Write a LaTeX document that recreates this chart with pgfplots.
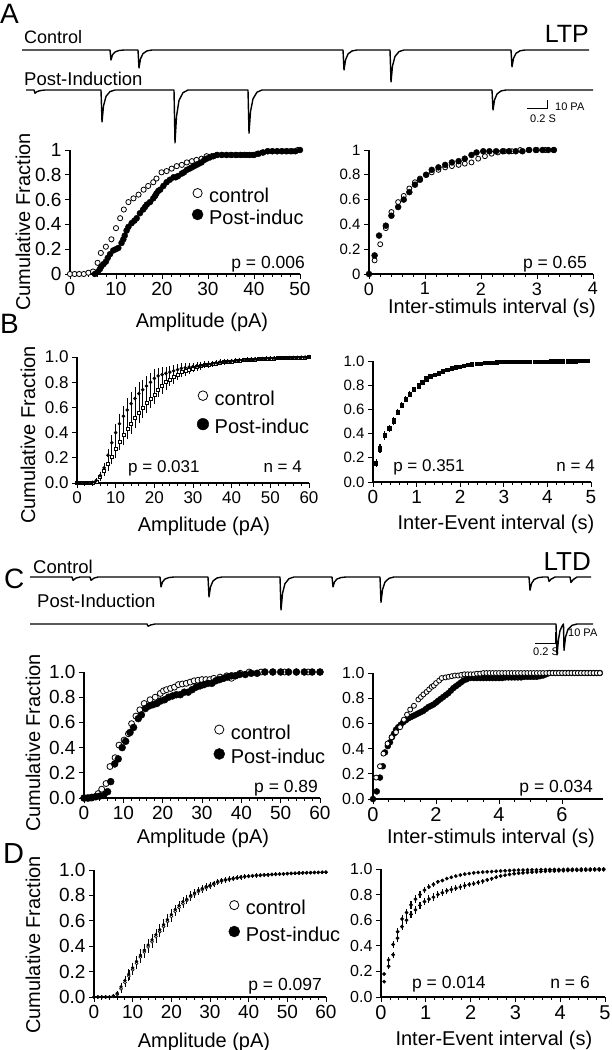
\documentclass[border=0pt]{standalone}
\usepackage{fontspec}
\setmainfont{Liberation Sans}
\usepackage{pgfplots}
\pgfplotsset{compat=1.18}
\newcommand{\fs}[1]{\fontsize{#1}{#1}\selectfont}
\pgfplotsset{
  cdf/.style={scale only axis, anchor=south west, axis lines*=left,
    enlargelimits=false, clip=false,
    axis line style={line width=1.1pt, black},
    tick style={black, line width=0.9pt},
    tick align=outside, major tick length=5pt, minor tick length=2.5pt,
    /pgf/number format/assume math mode=true,
    ymin=0, ymax=1, xmin=0,
    ytick={0,0.2,0.4,0.6,0.8,1},
    yticklabels={0.0,0.2,0.4,0.6,0.8,1.0},
    xlabel style={anchor=center, font=\fs{20}},
    ylabel style={anchor=center, font=\fs{20}},
    legend style={anchor=north west, draw=none, fill=none, font=\fs{20},
      inner sep=0pt, column sep=5pt, nodes={inner sep=1pt}},
    legend cell align=left,
  },
  trace/.style={scale only axis, anchor=south west, hide axis, clip=false,
    xmin=0, xmax=6, width=600pt},
  dotlegend/.style={legend image code/.code={\draw[##1] plot coordinates {(0pt,0.33em)};}},
  openm/.style={only marks, mark=*, mark options={fill=white, draw=black, line width=0.8pt}, black},
  fillm/.style={only marks, mark=*, mark options={fill=black, draw=black}, black},
  ebar/.style={error bars/.cd, y dir=both, y explicit,
    error bar style={line width=0.6pt, black},
    error mark options={mark size=1.4pt, line width=0.6pt, black}},
  ebarnc/.style={error bars/.cd, y dir=both, y explicit,
    error bar style={line width=1.1pt, black}, error mark=none},
}
\begin{document}
\begin{tikzpicture}
\path[use as bounding box] (0,0) rectangle (612pt,-1050pt);

% ---------------- texts of panels A and C ----------------
\node[anchor=base west, font=\fs{28}, inner sep=0pt] at (0pt,-23pt) {A};
\node[anchor=base east, font=\fs{25}, inner sep=0pt] at (589pt,-42pt) {LTP};
\node[anchor=base west, font=\fs{18}, inner sep=0pt] at (24pt,-43pt) {Control};
\node[anchor=base west, font=\fs{18.5}, inner sep=0pt] at (24pt,-85pt) {Post-Induction};
\node[anchor=base west, font=\fs{28}, inner sep=0pt] at (0pt,-333pt) {B};
\node[anchor=base west, font=\fs{28}, inner sep=0pt] at (4pt,-588pt) {C};
\node[anchor=base west, font=\fs{18.5}, inner sep=0pt] at (33pt,-573pt) {Control};
\node[anchor=base east, font=\fs{26}, inner sep=0pt] at (591pt,-570pt) {LTD};
\node[anchor=base west, font=\fs{18.5}, inner sep=0pt] at (37pt,-607pt) {Post-Induction};
\node[anchor=base west, font=\fs{29}, inner sep=0pt] at (3pt,-863pt) {D};

% ---------------- traces A ----------------
\begin{axis}[trace, at={(0pt,-110pt)}, height=68pt, ymin=-75, ymax=10]
\addplot[black, line width=1.4pt, line join=round] coordinates {
(0.22,0)
(1.10,0)(1.11,-12.5)(1.125,-6)(1.15,-2.5)(1.19,-0.6)(1.24,0)
(1.38,0)(1.39,-22.5)(1.405,-11)(1.43,-4.5)(1.47,-1.1)(1.52,0)
(3.43,0)(3.44,-25)(3.455,-12.5)(3.48,-5)(3.52,-1.2)(3.57,0)
(3.90,0)(3.91,-40)(3.925,-20)(3.95,-8)(3.99,-2)(4.04,0)
(5.11,0)(5.12,-21)(5.135,-10.5)(5.16,-4.2)(5.20,-1)(5.25,0)
(5.89,0)};
\end{axis}
\begin{axis}[trace, at={(0pt,-150pt)}, height=68pt, ymin=-75, ymax=10]
\addplot[black, line width=1.4pt, line join=round] coordinates {
(0.26,0)
(0.34,0)(0.35,-4)(0.37,-2)(0.40,-0.8)(0.45,0)
(1.01,0)(1.02,-40)(1.035,-20)(1.06,-8)(1.10,-2)(1.15,0)
(1.74,0)(1.75,-66)(1.765,-33)(1.79,-13)(1.83,-3.3)(1.88,0)
(2.48,0)(2.49,-54)(2.505,-27)(2.53,-11)(2.57,-2.7)(2.62,0)
(4.92,0)(4.93,-25)(4.945,-12.5)(4.97,-5)(5.01,-1.2)(5.06,0)
(5.93,0)};
\addplot[black, line width=1pt] coordinates {(5.27,-22.5)(5.47,-22.5)(5.47,-12.5)};
\node[anchor=west, font=\fs{11}, inner sep=0pt] at (axis cs:5.55,-21.5) {10 PA};
\node[font=\fs{11}, inner sep=0pt] at (axis cs:5.43,-36) {0.2 S};
\end{axis}

% ---------------- A left ----------------
\begin{axis}[cdf, at={(70pt,-274pt)}, width=230pt, height=124pt, xmax=50,
  xtick={0,10,20,30,40,50}, minor x tick num=4,
  yticklabels={0,0.2,0.4,0.6,0.8,1},
  tick label style={font=\fs{19}},
  xlabel={Amplitude (pA)}, ylabel={Cumulative Fraction},
  xlabel style={at={(axis description cs:0.574,-0.387)}},
  ylabel style={at={(axis description cs:-0.204,0.419)}},
  legend style={at={(axis description cs:0.53,0.70)}, row sep=3.4pt}]
\addlegendimage{openm, mark size=4.6pt, dotlegend}\addlegendentry{control}
\addlegendimage{fillm, mark size=5.5pt, dotlegend}\addlegendentry{Post-induc}
\addplot[openm, mark size=2.6pt] coordinates {
(0,0)(1,0)(2,0)(3,0)(4,0.01)(5,0.02)(6,0.09)(6.7,0.17)(7.8,0.22)(9,0.28)(10,0.37)(10.9,0.45)(11.7,0.52)(12.7,0.58)(13.8,0.61)(14.9,0.64)(16,0.68)(17,0.71)(18.1,0.74)(18.8,0.77)(19.9,0.82)(21,0.83)(22.1,0.85)(23.2,0.87)(24.3,0.88)(25.4,0.9)(26.5,0.91)(27.5,0.92)(28.6,0.93)(29.7,0.95)(30.8,0.95)(31.9,0.96)(33,0.96)(34.1,0.96)(35.2,0.96)(36.3,0.96)(37.4,0.96)(38.5,0.96)(39.6,0.96)(40.7,0.97)(41.8,0.98)(42.9,0.99)(44,0.99)(45.1,0.99)(46.2,0.99)(47.3,0.99)(48.4,0.99)(49.5,1)};
\addplot[fillm, mark size=3pt] coordinates {
(5.4,0)(6.1,0.02)(6.5,0.04)(6.8,0.06)(7.3,0.08)(7.8,0.1)(8.2,0.13)(8.7,0.16)(9.4,0.19)(10,0.2)(10.5,0.21)(11.2,0.25)(11.6,0.28)(11.9,0.31)(12.3,0.35)(12.7,0.38)(13.4,0.41)(14,0.43)(14.5,0.45)(15.2,0.49)(15.9,0.52)(16.3,0.54)(16.7,0.56)(17.4,0.58)(18.1,0.61)(18.5,0.63)(18.8,0.65)(19.2,0.67)(19.6,0.68)(20.3,0.71)(21,0.74)(21.7,0.76)(22.5,0.78)(23,0.78)(23.5,0.79)(24.3,0.81)(24.8,0.82)(25.4,0.84)(26,0.85)(26.5,0.86)(27,0.87)(27.5,0.88)(28,0.89)(28.6,0.9)(29.2,0.92)(29.7,0.93)(30.4,0.94)(31.2,0.95)(32,0.96)(33,0.96)(34,0.96)(35,0.96)(36,0.96)(37,0.96)(38,0.96)(39,0.96)(40,0.96)(41,0.97)(42,0.98)(43,0.99)(44,0.99)(45,0.99)(46,0.99)(47,0.99)(48,0.99)(49,0.99)(50,1)};
\node[anchor=base east, font=\fs{17.5}, inner sep=0pt] at (axis description cs:1.022,0.048) {p = 0.006};
\end{axis}

% ---------------- A right ----------------
\begin{axis}[cdf, at={(369pt,-274pt)}, width=224pt, height=124pt, xmax=4,
  xtick={0,1,2,3,4}, minor x tick num=4,
  yticklabels={0,0.2,0.4,0.6,0.8,1},
  xticklabel style={font=\fs{18}}, yticklabel style={font=\fs{15}},
  xlabel={Inter-stimuls interval (s)},
  xlabel style={at={(axis description cs:0.549,-0.274)}}]
\addplot[openm, mark size=2.5pt] coordinates {
(0.1,0.11)(0.2,0.24)(0.3,0.37)(0.4,0.5)(0.52,0.58)(0.62,0.63)(0.72,0.69)(0.82,0.74)(0.91,0.77)(1.02,0.8)(1.12,0.82)(1.24,0.84)(1.36,0.86)(1.48,0.87)(1.6,0.88)(1.71,0.89)(1.83,0.9)(1.95,0.93)(2.07,0.95)(2.19,0.97)(2.3,0.98)(2.42,0.99)(2.55,0.99)(2.7,1)(2.85,1)(3,1)(3.15,1)(3.3,1)};
\addplot[fillm, mark size=3pt] coordinates {
(0,0)(0.1,0.15)(0.18,0.31)(0.3,0.39)(0.4,0.47)(0.52,0.54)(0.62,0.6)(0.72,0.66)(0.82,0.72)(0.91,0.76)(1.02,0.8)(1.12,0.84)(1.24,0.86)(1.36,0.88)(1.48,0.9)(1.6,0.91)(1.71,0.93)(1.83,0.96)(1.92,0.98)(2.04,0.99)(2.15,0.99)(2.27,0.99)(2.39,0.99)(2.5,0.99)(2.62,0.99)(2.74,0.99)(2.86,1)(2.98,1)(3.1,1)(3.2,1)(3.3,1)};
\node[anchor=base east, font=\fs{17.5}, inner sep=0pt] at (axis description cs:0.973,0.048) {p = 0.65};
\end{axis}

% ---------------- B left ----------------
\begin{axis}[cdf, at={(77pt,-483pt)}, width=232pt, height=126pt, xmax=60,
  xtick={0,10,20,30,40,50,60}, minor x tick num=4,
  tick label style={font=\fs{17}},
  xlabel={Amplitude (pA)}, ylabel={Cumulative Fraction},
  xlabel style={at={(axis description cs:0.547,-0.341)}},
  ylabel style={at={(axis description cs:-0.211,0.381)}},
  legend style={at={(axis description cs:0.517,0.74)}, row sep=10.4pt}]
\addlegendimage{openm, mark size=4.8pt, dotlegend}\addlegendentry{control}
\addlegendimage{fillm, mark size=5.8pt, dotlegend}\addlegendentry{Post-induc}
\addplot[only marks, mark=square*, mark size=1.5pt, mark options={fill=white, draw=black, line width=0.5pt}, black, ebar] table[x=x, y=y, y error=e, row sep=\\] {
x y e\\ 0 0 0\\ 1 0 0\\ 2 0 0\\ 3 0 0\\ 4 0.003 0.002\\ 5 0.01 0.005\\ 6 0.05 0.02\\ 7 0.10 0.03\\ 8 0.15 0.04\\ 9 0.21 0.05\\ 10 0.27 0.06\\ 11 0.33 0.06\\ 12 0.38 0.07\\ 13 0.43 0.07\\ 14 0.47 0.07\\ 15 0.52 0.07\\ 16 0.56 0.07\\ 17 0.60 0.07\\ 18 0.64 0.07\\ 19 0.67 0.06\\ 20 0.70 0.06\\ 21 0.74 0.05\\ 22 0.77 0.05\\ 23 0.80 0.05\\ 24 0.82 0.04\\ 25 0.84 0.04\\ 26 0.86 0.03\\ 27 0.88 0.03\\ 28 0.89 0.03\\ 29 0.90 0.025\\ 30 0.91 0.02\\ 31 0.92 0.02\\ 32 0.93 0.02\\ 33 0.935 0.015\\ 34 0.94 0.015\\ 35 0.945 0.012\\ 36 0.95 0.01\\ 37 0.955 0.01\\ 38 0.96 0.01\\ 39 0.963 0.01\\ 40 0.966 0.008\\ 41 0.969 0.008\\ 42 0.972 0.008\\ 43 0.975 0.006\\ 44 0.977 0.006\\ 45 0.979 0.006\\ 46 0.981 0.005\\ 47 0.983 0.005\\ 48 0.985 0.005\\ 49 0.987 0.004\\ 50 0.989 0.004\\ 51 0.99 0.003\\ 52 0.991 0.003\\ 53 0.992 0.003\\ 54 0.993 0.003\\ 55 0.994 0.002\\ 56 0.995 0.002\\ 57 0.996 0.002\\ 58 0.997 0.002\\ 59 0.998 0.001\\ 60 0.999 0\\
};
\addplot[only marks, mark=*, mark size=1.6pt, black, ebar] table[x=x, y=y, y error=e, row sep=\\] {
x y e\\ 0 0 0\\ 1 0 0\\ 2 0 0\\ 3 0 0\\ 4 0.005 0.003\\ 5 0.02 0.01\\ 6 0.06 0.02\\ 7 0.12 0.03\\ 8 0.22 0.04\\ 9 0.32 0.05\\ 10 0.40 0.06\\ 11 0.47 0.07\\ 12 0.53 0.07\\ 13 0.58 0.08\\ 14 0.63 0.08\\ 15 0.67 0.08\\ 16 0.71 0.08\\ 17 0.74 0.07\\ 18 0.77 0.07\\ 19 0.80 0.06\\ 20 0.83 0.06\\ 21 0.85 0.05\\ 22 0.86 0.05\\ 23 0.87 0.04\\ 24 0.88 0.04\\ 25 0.89 0.035\\ 26 0.90 0.03\\ 27 0.91 0.03\\ 28 0.915 0.025\\ 29 0.92 0.02\\ 30 0.925 0.02\\ 31 0.93 0.02\\ 32 0.935 0.015\\ 33 0.94 0.015\\ 34 0.945 0.015\\ 35 0.95 0.01\\ 36 0.955 0.01\\ 37 0.96 0.01\\ 38 0.963 0.01\\ 39 0.966 0.01\\ 40 0.969 0.008\\ 41 0.972 0.008\\ 42 0.975 0.008\\ 43 0.977 0.006\\ 44 0.979 0.006\\ 45 0.981 0.006\\ 46 0.983 0.005\\ 47 0.985 0.005\\ 48 0.987 0.005\\ 49 0.989 0.004\\ 50 0.99 0.004\\ 51 0.991 0.003\\ 52 0.992 0.003\\ 53 0.993 0.003\\ 54 0.994 0.003\\ 55 0.995 0.002\\ 56 0.996 0.002\\ 57 0.997 0.002\\ 58 0.998 0.002\\ 59 0.999 0.001\\ 60 1 0\\
};
\node[anchor=base west, font=\fs{17}, inner sep=0pt] at (axis description cs:0.22,0.087) {p = 0.031};
\node[anchor=base east, font=\fs{17}, inner sep=0pt] at (axis description cs:0.97,0.087) {n = 4};
\end{axis}

% ---------------- B right ----------------
\begin{axis}[cdf, at={(373pt,-482pt)}, width=218pt, height=121pt, xmax=5,
  xtick={0,1,2,3,4,5}, minor x tick num=4,
  xticklabel style={font=\fs{19}}, yticklabel style={font=\fs{15}},
  xlabel={Inter-Event interval (s)},
  xlabel style={at={(axis description cs:0.564,-0.347)}}]
\addplot[only marks, mark=square*, mark size=1.6pt, black, ebarnc] table[x=x, y=y, y error=e, row sep=\\] {
x y e\\ 0.07 0.15 0.03\\ 0.16 0.27 0.03\\ 0.26 0.38 0.03\\ 0.37 0.44 0.025\\ 0.47 0.50 0.025\\ 0.57 0.57 0.02\\ 0.66 0.63 0.02\\ 0.75 0.68 0.02\\ 0.84 0.72 0.02\\ 0.94 0.76 0.015\\ 1.04 0.79 0.015\\ 1.13 0.82 0.015\\ 1.22 0.85 0.012\\ 1.31 0.87 0.012\\ 1.41 0.885 0.01\\ 1.5 0.90 0.01\\ 1.6 0.91 0.01\\ 1.7 0.925 0.01\\ 1.8 0.935 0.008\\ 1.89 0.945 0.008\\ 1.99 0.952 0.008\\
};
\addplot[only marks, mark=square*, mark size=1.6pt, black, ebarnc] table[x=x, y=y, y error=e, row sep=\\] {
x y e\\ 0.07 0.16 0.03\\ 0.16 0.28 0.03\\ 0.26 0.39 0.03\\ 0.37 0.45 0.025\\ 0.47 0.51 0.025\\ 0.57 0.58 0.02\\ 0.66 0.64 0.02\\ 0.75 0.69 0.02\\ 0.84 0.73 0.02\\ 0.94 0.77 0.015\\ 1.04 0.80 0.015\\ 1.13 0.83 0.015\\ 1.22 0.86 0.012\\ 1.31 0.875 0.012\\ 1.41 0.89 0.01\\ 1.5 0.905 0.01\\ 1.6 0.915 0.01\\ 1.7 0.93 0.01\\ 1.8 0.94 0.008\\ 1.89 0.95 0.008\\ 1.99 0.955 0.008\\ 2.08 0.962 0.006\\ 2.18 0.968 0.006\\ 2.27 0.973 0.005\\ 2.37 0.977 0.005\\ 2.46 0.98 0.004\\ 2.56 0.983 0.004\\ 2.65 0.986 0.003\\ 2.75 0.988 0.003\\ 2.84 0.99 0.003\\ 2.94 0.991 0.002\\ 3.03 0.992 0.002\\ 3.13 0.993 0.002\\ 3.22 0.994 0.002\\ 3.32 0.994 0.002\\ 3.41 0.995 0.001\\ 3.51 0.995 0.001\\ 3.6 0.996 0.001\\ 3.7 0.996 0.001\\ 3.79 0.997 0.001\\ 3.89 0.997 0.001\\ 3.98 0.997 0.001\\ 4.08 0.998 0.001\\ 4.17 0.998 0.001\\ 4.27 0.998 0.001\\ 4.36 0.999 0.001\\ 4.46 0.999 0.001\\ 4.55 0.999 0.001\\ 4.65 0.999 0.001\\ 4.74 1 0\\ 4.84 1 0\\ 4.93 1 0\\
};
\node[anchor=base west, font=\fs{17}, inner sep=0pt] at (axis description cs:0.092,0.083) {p = 0.351};
\node[anchor=base east, font=\fs{17}, inner sep=0pt] at (axis description cs:1.018,0.083) {n = 4};
\end{axis}

% ---------------- traces C ----------------
\begin{axis}[trace, at={(0pt,-621pt)}, height=55pt, ymin=-40, ymax=10]
\addplot[black, line width=1.4pt, line join=round] coordinates {
(0.30,0)
(0.72,0)(0.73,-3)(0.76,-1)(0.80,0)
(0.90,0)(0.91,-3)(0.94,-1)(0.98,0)
(1.60,0)(1.61,-9)(1.625,-4.5)(1.65,-1.8)(1.69,-0.5)(1.74,0)
(2.08,0)(2.09,-18)(2.105,-9)(2.13,-3.6)(2.17,-0.9)(2.22,0)
(2.80,0)(2.81,-30)(2.825,-15)(2.85,-6)(2.89,-1.5)(2.94,0)
(3.32,0)(3.33,-9)(3.345,-4.5)(3.37,-1.8)(3.41,-0.5)(3.46,0)
(3.80,0)(3.81,-23)(3.825,-11.5)(3.85,-4.6)(3.89,-1.2)(3.94,0)
(5.29,0)(5.30,-12)(5.315,-6)(5.34,-2.4)(5.38,-0.6)(5.43,0)
(5.48,0)(5.49,-4)(5.51,-2)(5.55,0)
(5.70,0)(5.71,-5)(5.73,-2.5)(5.77,0)
(5.91,0)};
\end{axis}
\begin{axis}[trace, at={(0pt,-668pt)}, height=55pt, ymin=-40, ymax=10]
\addplot[black, line width=1.4pt, line join=round] coordinates {
(0.30,0)
(1.47,0)(1.48,-2)(1.51,-0.8)(1.55,0)
(5.56,0)(5.57,-28)(5.585,-14)(5.60,-6)(5.62,-2)(5.635,0)(5.64,-24)(5.655,-12)(5.68,-4.8)(5.72,-1.2)(5.77,0)
(5.93,0)};
\addplot[black, line width=1pt] coordinates {(5.35,-17.3)(5.55,-17.3)(5.55,-7.3)};
\node[anchor=west, font=\fs{11}, inner sep=0pt] at (axis cs:5.68,-8.2) {10 PA};
\node[font=\fs{11}, inner sep=0pt] at (axis cs:5.46,-25) {0.2 S};
\end{axis}

% ---------------- C left ----------------
\begin{axis}[cdf, at={(84pt,-798pt)}, width=236pt, height=126pt, xmax=60,
  xtick={0,10,20,30,40,50,60}, minor x tick num=4,
  tick label style={font=\fs{19}},
  xlabel={Amplitude (pA)}, ylabel={Cumulative Fraction},
  xlabel style={at={(axis description cs:0.504,-0.317)}},
  ylabel style={at={(axis description cs:-0.216,0.437)}},
  legend style={at={(axis description cs:0.549,0.59)}, row sep=6.4pt}]
\addlegendimage{openm, mark size=4.6pt, dotlegend}\addlegendentry{control}
\addlegendimage{fillm, mark size=5.5pt, dotlegend}\addlegendentry{Post-induc}
\addplot[openm, mark size=3pt] coordinates {
(0,0)(0.5,0)(1,0)(1.5,0)(2,0)(2.8,0.01)(3.6,0.035)(4.5,0.07)(5.6,0.115)(6.6,0.25)(7.9,0.32)(8.9,0.42)(10.2,0.46)(11.3,0.51)(12.1,0.59)(13.2,0.65)(14.2,0.7)(15.3,0.75)(16.8,0.78)(18.1,0.8)(19.4,0.83)(20.2,0.85)(21,0.86)(22,0.87)(23,0.88)(24,0.9)(25,0.905)(26,0.91)(27,0.92)(28,0.93)(29,0.935)(30,0.94)(31,0.94)(32,0.94)(33,0.95)(34.6,0.96)(36.3,0.97)(37.5,0.95)(38.5,0.97)(39.7,0.99)(42,1)(45,1)(48,1)(51,1)(54,1)(57,1)(60,1)};
\addplot[fillm, mark size=3.5pt] coordinates {
(0,0)(1,0)(2,0.005)(3,0.01)(4,0.015)(5,0.02)(6,0.05)(6.8,0.13)(7.8,0.27)(8.7,0.31)(9.7,0.4)(10.6,0.45)(11.7,0.52)(12.6,0.56)(13.8,0.63)(14.6,0.66)(15.6,0.71)(16.5,0.73)(17.5,0.74)(18.5,0.75)(19.5,0.77)(20.5,0.78)(21.5,0.8)(22.5,0.81)(23.5,0.82)(24.5,0.82)(25.5,0.84)(26.5,0.84)(27.5,0.86)(28.5,0.88)(29.5,0.89)(30.5,0.9)(31.5,0.91)(32.5,0.91)(33.5,0.93)(34.5,0.94)(35.5,0.95)(36.5,0.96)(37.5,0.97)(38.5,0.97)(39.5,0.98)(41,0.98)(42.5,0.99)(44,0.99)(46,1)(48,1)(50,1)(52,1)(54,1)(56,1)(58,1)(60,1)};
\node[anchor=base east, font=\fs{17.5}, inner sep=0pt] at (axis description cs:0.992,0.04) {p = 0.89};
\end{axis}

% ---------------- C right ----------------
\begin{axis}[cdf, at={(373pt,-799pt)}, width=230pt, height=126pt, xmax=7.3,
  xtick={0,2,4,6}, minor x tick num=3,
  xticklabel style={font=\fs{20}}, yticklabel style={font=\fs{16}},
  xlabel={Inter-stimuls interval (s)},
  xlabel style={at={(axis description cs:0.513,-0.31)}}]
\addplot[fillm, mark size=3pt] coordinates {
(0,0)(0.12,0.06)(0.22,0.17)(0.31,0.26)(0.38,0.37)(0.47,0.42)(0.54,0.45)(0.6,0.49)(0.67,0.52)(0.73,0.55)(0.8,0.57)(0.88,0.59)(0.96,0.61)(1.04,0.625)(1.12,0.64)(1.2,0.65)(1.28,0.66)(1.36,0.67)(1.44,0.68)(1.52,0.69)(1.6,0.7)(1.68,0.715)(1.76,0.73)(1.84,0.74)(1.92,0.75)(2,0.765)(2.07,0.78)(2.15,0.795)(2.23,0.81)(2.31,0.825)(2.39,0.84)(2.47,0.86)(2.55,0.88)(2.63,0.895)(2.71,0.91)(2.79,0.925)(2.87,0.94)(2.97,0.95)(3.08,0.96)(3.2,0.96)(3.3,0.96)(3.4,0.96)(3.5,0.96)(3.6,0.96)(3.7,0.96)(3.8,0.96)(3.9,0.96)(4,0.96)(4.1,0.96)(4.2,0.965)(4.3,0.965)(4.4,0.965)(4.5,0.965)(4.6,0.965)(4.7,0.965)(4.8,0.97)(4.9,0.97)(5,0.97)(5.1,0.97)(5.2,0.97)(5.3,0.975)(5.4,0.98)(5.5,0.99)(5.6,1)(5.7,1)(5.8,1)(5.9,1)(6,1)(6.1,1)(6.2,1)(6.3,1)(6.4,1)(6.5,1)(6.6,1)(6.7,1)(6.8,1)(6.9,1)(7,1)(7.1,1)(7.2,1)};
\addplot[openm, mark size=2.5pt] coordinates {
(0.1,0.17)(0.22,0.26)(0.33,0.36)(0.46,0.44)(0.59,0.49)(0.73,0.53)(0.86,0.57)(0.98,0.63)(1.08,0.67)(1.18,0.71)(1.3,0.74)(1.44,0.79)(1.52,0.81)(1.6,0.83)(1.7,0.85)(1.78,0.87)(1.86,0.89)(1.93,0.9)(2,0.92)(2.1,0.94)(2.18,0.96)(2.3,0.965)(2.4,0.97)(2.5,0.975)(2.6,0.98)(2.7,0.98)(2.8,0.985)(2.9,0.99)(3,0.99)(3.1,0.99)(3.2,0.99)(3.3,0.995)(3.4,0.995)(3.5,1)(3.6,1)(3.7,1)(3.8,1)(3.9,1)(4,1)(4.1,1)(4.2,1)(4.3,1)(4.4,1)(4.5,1)(4.6,1)(4.7,1)(4.8,1)(4.9,1)(5,1)(5.1,1)(5.2,1)(5.3,1)(5.4,1)(5.5,1)(5.6,1)(5.7,1)(5.8,1)(5.9,1)(6,1)(6.1,1)(6.2,1)(6.3,1)(6.4,1)(6.5,1)(6.6,1)(6.7,1)(6.8,1)(6.9,1)(7,1)(7.1,1)(7.2,1)};
\node[anchor=base east, font=\fs{17.5}, inner sep=0pt] at (axis description cs:0.957,0.048) {p = 0.034};
\end{axis}

% ---------------- D left ----------------
\begin{axis}[cdf, at={(94pt,-997pt)}, width=232pt, height=127pt, xmax=60,
  xtick={0,10,20,30,40,50,60}, minor x tick num=4,
  tick label style={font=\fs{19}},
  xlabel={Amplitude (pA)}, ylabel={Cumulative Fraction},
  xlabel style={at={(axis description cs:0.474,-0.354)}},
  ylabel style={at={(axis description cs:-0.263,0.41)}},
  legend style={at={(axis description cs:0.58,0.77)}, row sep=8.4pt}]
\addlegendimage{openm, mark size=4.6pt, dotlegend}\addlegendentry{control}
\addlegendimage{fillm, mark size=5.5pt, dotlegend}\addlegendentry{Post-induc}
\addplot[only marks, mark=*, mark size=1.5pt, mark options={fill=white, draw=black, line width=0.6pt}, black, ebar] table[x=x, y=y, y error=e, row sep=\\] {
x y e\\ 0 0 0\\ 1 0 0\\ 2 0 0\\ 3 0 0\\ 4 0 0\\ 5 0.005 0.004\\ 6 0.02 0.01\\ 7 0.065 0.02\\ 8 0.115 0.025\\ 9 0.165 0.03\\ 10 0.215 0.03\\ 11 0.265 0.035\\ 12 0.315 0.035\\ 13 0.355 0.035\\ 14 0.395 0.035\\ 15 0.435 0.035\\ 16 0.475 0.035\\ 17 0.515 0.03\\ 18 0.555 0.03\\ 19 0.595 0.03\\ 20 0.635 0.03\\ 21 0.675 0.025\\ 22 0.705 0.025\\ 23 0.735 0.025\\ 24 0.76 0.02\\ 25 0.79 0.02\\ 26 0.81 0.02\\ 27 0.83 0.015\\ 28 0.845 0.015\\ 29 0.86 0.015\\ 30 0.872 0.012\\ 31 0.887 0.01\\ 32 0.902 0.01\\ 33 0.913 0.01\\ 34 0.92 0.008\\ 35 0.926 0.008\\ 36 0.931 0.007\\ 37 0.937 0.006\\ 38 0.942 0.006\\ 39 0.947 0.005\\ 40 0.95 0.005\\ 41 0.953 0.004\\ 42 0.956 0.004\\ 43 0.958 0.004\\ 44 0.96 0.003\\ 45 0.962 0.003\\ 46 0.964 0.003\\ 47 0.966 0.003\\ 48 0.968 0.002\\ 49 0.969 0.002\\ 50 0.971 0.002\\ 51 0.973 0.002\\ 52 0.974 0.002\\ 53 0.976 0.002\\ 54 0.977 0.002\\ 55 0.978 0.001\\ 56 0.979 0.001\\ 57 0.98 0.001\\ 58 0.981 0.001\\ 59 0.982 0.001\\ 60 0.983 0.001\\
};
\addplot[only marks, mark=*, mark size=1.5pt, black, ebar] table[x=x, y=y, y error=e, row sep=\\] {
x y e\\ 0 0 0\\ 1 0 0\\ 2 0 0\\ 3 0 0\\ 4 0 0\\ 5 0.01 0.005\\ 6 0.03 0.01\\ 7 0.08 0.02\\ 8 0.13 0.025\\ 9 0.18 0.03\\ 10 0.23 0.03\\ 11 0.28 0.035\\ 12 0.33 0.035\\ 13 0.37 0.035\\ 14 0.41 0.035\\ 15 0.45 0.035\\ 16 0.49 0.035\\ 17 0.53 0.03\\ 18 0.57 0.03\\ 19 0.61 0.03\\ 20 0.65 0.03\\ 21 0.69 0.025\\ 22 0.72 0.025\\ 23 0.75 0.025\\ 24 0.77 0.02\\ 25 0.80 0.02\\ 26 0.82 0.02\\ 27 0.84 0.015\\ 28 0.855 0.015\\ 29 0.87 0.015\\ 30 0.88 0.012\\ 31 0.895 0.01\\ 32 0.91 0.01\\ 33 0.92 0.01\\ 34 0.925 0.008\\ 35 0.93 0.008\\ 36 0.935 0.007\\ 37 0.94 0.006\\ 38 0.945 0.006\\ 39 0.95 0.005\\ 40 0.953 0.005\\ 41 0.956 0.004\\ 42 0.958 0.004\\ 43 0.96 0.004\\ 44 0.962 0.003\\ 45 0.964 0.003\\ 46 0.966 0.003\\ 47 0.968 0.003\\ 48 0.969 0.002\\ 49 0.97 0.002\\ 50 0.972 0.002\\ 51 0.974 0.002\\ 52 0.975 0.002\\ 53 0.977 0.002\\ 54 0.978 0.002\\ 55 0.979 0.001\\ 56 0.98 0.001\\ 57 0.981 0.001\\ 58 0.982 0.001\\ 59 0.983 0.001\\ 60 0.984 0.001\\
};
\node[anchor=base east, font=\fs{17.5}, inner sep=0pt] at (axis description cs:0.983,0.055) {p = 0.097};
\end{axis}

% ---------------- D right ----------------
\begin{axis}[cdf, at={(381pt,-997pt)}, width=224pt, height=128pt, xmax=5,
  xtick={0,1,2,3,4,5}, minor x tick num=4,
  xticklabel style={font=\fs{20}}, yticklabel style={font=\fs{16}},
  xlabel={Inter-Event interval (s)},
  xlabel style={at={(axis description cs:0.504,-0.336)}}]
\addplot[only marks, mark=*, mark size=1.7pt, black, ebarnc] table[x=x, y=y, y error=e, row sep=\\] {
x y e\\ 0.07 0.18 0\\ 0.17 0.29 0.025\\ 0.27 0.41 0.025\\ 0.37 0.51 0.03\\ 0.47 0.61 0.03\\ 0.57 0.66 0.03\\ 0.67 0.72 0.03\\ 0.77 0.765 0.03\\ 0.87 0.80 0.025\\ 0.97 0.835 0.025\\ 1.07 0.86 0.02\\ 1.17 0.88 0.02\\ 1.27 0.90 0.015\\ 1.37 0.91 0.015\\ 1.47 0.925 0.012\\ 1.57 0.935 0.01\\ 1.67 0.945 0.01\\ 1.77 0.953 0.008\\ 1.87 0.96 0.008\\ 1.97 0.965 0.006\\ 2.07 0.97 0.006\\ 2.17 0.973 0.005\\ 2.27 0.976 0.005\\ 2.37 0.978 0.004\\ 2.47 0.98 0.004\\ 2.57 0.982 0.004\\ 2.67 0.984 0.003\\ 2.77 0.986 0.003\\ 2.87 0.988 0.003\\ 2.97 0.99 0.003\\ 3.07 0.991 0.002\\ 3.17 0.992 0.002\\ 3.27 0.993 0.002\\ 3.37 0.994 0.002\\ 3.47 0.994 0.002\\ 3.57 0.995 0.002\\ 3.67 0.995 0.001\\ 3.77 0.996 0.001\\ 3.87 0.996 0.001\\ 3.97 0.997 0.001\\ 4.07 0.997 0.001\\ 4.17 0.998 0.001\\ 4.27 0.998 0.001\\ 4.37 0.998 0.001\\ 4.47 0.999 0.001\\ 4.57 0.999 0.001\\ 4.67 0.999 0.001\\ 4.77 1 0\\ 4.87 1 0\\ 4.97 1 0\\
};
\addplot[only marks, mark=*, mark size=1.7pt, black, ebarnc] table[x=x, y=y, y error=e, row sep=\\] {
x y e\\ 0.07 0.12 0\\ 0.17 0.24 0.025\\ 0.27 0.33 0.025\\ 0.37 0.46 0.03\\ 0.47 0.55 0.03\\ 0.57 0.60 0.03\\ 0.67 0.645 0.03\\ 0.77 0.68 0.03\\ 0.87 0.715 0.03\\ 0.97 0.745 0.03\\ 1.07 0.765 0.03\\ 1.17 0.78 0.03\\ 1.27 0.80 0.03\\ 1.37 0.815 0.025\\ 1.47 0.83 0.025\\ 1.57 0.84 0.025\\ 1.67 0.85 0.025\\ 1.77 0.86 0.025\\ 1.87 0.87 0.025\\ 1.97 0.88 0.02\\ 2.07 0.885 0.02\\ 2.17 0.895 0.02\\ 2.27 0.905 0.02\\ 2.37 0.915 0.015\\ 2.47 0.925 0.015\\ 2.57 0.935 0.015\\ 2.67 0.945 0.012\\ 2.77 0.952 0.01\\ 2.87 0.958 0.01\\ 2.97 0.963 0.008\\ 3.07 0.967 0.008\\ 3.17 0.97 0.006\\ 3.27 0.973 0.006\\ 3.37 0.976 0.005\\ 3.47 0.978 0.005\\ 3.57 0.98 0.004\\ 3.67 0.982 0.004\\ 3.77 0.984 0.003\\ 3.87 0.985 0.003\\ 3.97 0.986 0.003\\ 4.07 0.987 0.003\\ 4.17 0.988 0.002\\ 4.27 0.989 0.002\\ 4.37 0.99 0.002\\ 4.47 0.99 0.002\\ 4.57 0.991 0.002\\ 4.67 0.992 0.002\\ 4.77 0.993 0.001\\ 4.87 0.993 0.001\\ 4.97 0.994 0.001\\
};
\node[anchor=base west, font=\fs{17.5}, inner sep=0pt] at (axis description cs:0.138,0.07) {p = 0.014};
\node[anchor=base east, font=\fs{17.5}, inner sep=0pt] at (axis description cs:0.933,0.07) {n = 6};
\end{axis}
\end{tikzpicture}
\end{document}
